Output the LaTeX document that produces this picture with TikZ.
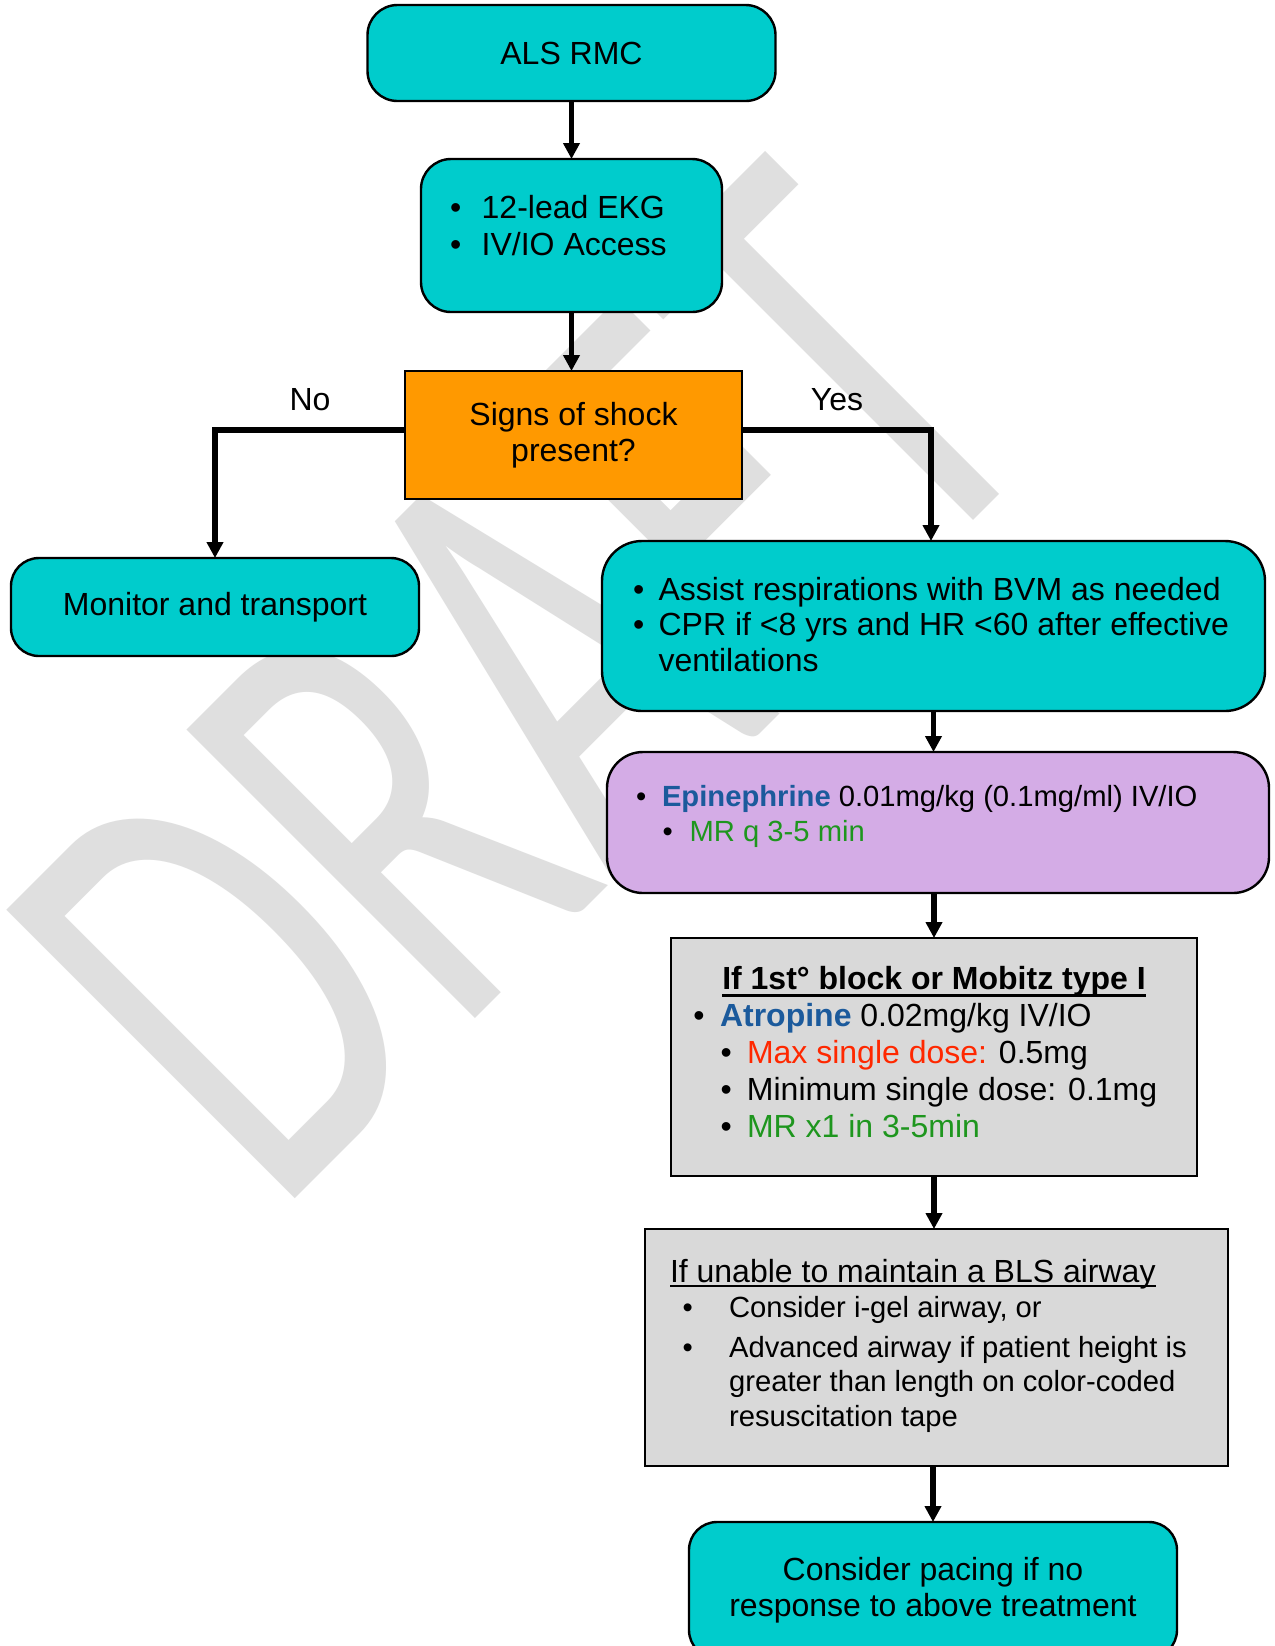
\documentclass[tikz,border=0pt]{standalone}
\usepackage{fontspec}
\usepackage{graphicx}
\setmainfont{Liberation Sans}
\newfontfamily\wmfont{Carlito}
\usetikzlibrary{arrows.meta}

\definecolor{boxcyan}{HTML}{00CCCC}
\definecolor{boxorange}{HTML}{FF9900}
\definecolor{boxlilac}{HTML}{D4ACE6}
\definecolor{boxgray}{HTML}{D9D9D9}
\definecolor{drugblue}{HTML}{1B5A9C}
\definecolor{dosegreen}{HTML}{1E961E}
\definecolor{dosered}{HTML}{FF2800}
\definecolor{wmgray}{HTML}{DFDFDF}

% bullet set in a slot of fixed width, followed by the item text
\newcommand{\bt}[2]{\makebox[#1][l]{•}#2}

\tikzset{
  flow/.style={draw=black, line width=1.2pt, inner sep=0pt, outer sep=0pt},
  cyanbox/.style={flow, fill=boxcyan, rounded corners=#1, align=center,
                  font=\fontsize{16}{18}\selectfont},
  cyanbox/.default=14pt,
  txt/.style={inner sep=0pt, outer sep=0pt, font=\fontsize{16}{18}\selectfont},
  smalltxt/.style={inner sep=0pt, outer sep=0pt, font=\fontsize{14.6}{17.2}\selectfont},
  link/.style={line width=2.6pt, line join=miter,
               -{Triangle[width=8pt,length=8pt]}},
}

\begin{document}
\begin{tikzpicture}[x=0.5pt, y=-0.5pt]
\useasboundingbox (0,0) rectangle (1275,1646);
\clip (0,0) rectangle (1275,1646);
\fill[white] (0,0) rectangle (1275,1646);

% watermark
\node[rotate=45, anchor=base west, inner sep=0pt, text=wmgray,
      font=\wmfont\fontsize{318}{318}\selectfont] (wm) at (275,1219)
      {\scalebox{0.648}[1]{DRAFT}};

% boxes
\node[cyanbox=15pt, minimum width=204pt, minimum height=48pt] (als) at (571.5,53) {ALS RMC};
\node[cyanbox=15pt, minimum width=150.5pt, minimum height=76.5pt] (ekg) at (571.5,235.5) {};
\node[flow, fill=boxorange, minimum width=168.5pt, minimum height=64pt, align=center,
      font=\fontsize{16}{18}\selectfont] (dec) at (573.5,435) {Signs of shock\\present?};
\node[cyanbox=14pt, minimum width=204pt, minimum height=49pt] (mon) at (215,607) {Monitor and transport};
\node[cyanbox=20pt, minimum width=331.5pt, minimum height=85pt] (assist) at (933.5,626) {};
\node[flow, fill=boxlilac, rounded corners=18pt, minimum width=331pt, minimum height=70.5pt] (epi) at (938,822.5) {};
\node[flow, fill=boxgray, minimum width=263pt, minimum height=119pt] (atro) at (934,1057) {};
\node[flow, fill=boxgray, minimum width=291.5pt, minimum height=118.5pt] (air) at (936.5,1347.5) {};
\node[cyanbox=14pt, minimum width=244pt, minimum height=68pt] (fin) at (933,1590)
      {Consider pacing if no\\response to above treatment};

% box texts
\node[txt, anchor=base west, font=\fontsize{16}{18.5}\selectfont] (ekgtxt) at (450,218)
  {\vtop{\hbox{\bt{15.85pt}{12-lead EKG}}\hbox{\bt{15.85pt}{IV/IO Access}}}};

\node[txt, anchor=base west, font=\fontsize{16}{17.9}\selectfont] (assisttxt) at (633,600)
  {\vtop{\hbox{\bt{12.8pt}{Assist respirations with BVM as needed}}%
         \hbox{\bt{12.8pt}{CPR if <8 yrs and HR <60 after effective}}%
         \hbox{\hspace*{12.8pt}ventilations}}};

\node[smalltxt, anchor=base west, font=\fontsize{14.6}{17.15}\selectfont] (epitxt) at (636,806.7)
  {\vtop{\hbox{\bt{13pt}{\textcolor{drugblue}{\textbf{Epinephrine}} 0.01mg/kg (0.1mg/ml) IV/IO}}%
         \hbox{\hspace*{13.35pt}\bt{13.45pt}{\textcolor{dosegreen}{MR q 3-5 min}}}}};

\node[txt, anchor=base, font=\fontsize{16}{18}\bfseries] (atrotitle) at (934,989.6)
  {If 1st° block or Mobitz type I};
\draw[line width=1.3pt] ([yshift=-3pt]atrotitle.base west) -- ([yshift=-3pt]atrotitle.base east);

\node[txt, anchor=base west, font=\fontsize{16}{18.6}\selectfont] (atrotxt) at (693.4,1026)
  {\vtop{\hbox{\bt{13.3pt}{\textcolor{drugblue}{\textbf{Atropine}} 0.02mg/kg IV/IO}}%
         \hbox{\hspace*{13.6pt}\bt{13.2pt}{\textcolor{dosered}{Max single dose:} 0.5mg}}%
         \hbox{\hspace*{13.6pt}\bt{13.2pt}{Minimum single dose: 0.1mg}}%
         \hbox{\hspace*{13.6pt}\bt{13.2pt}{\textcolor{dosegreen}{MR x1 in 3-5min}}}}};

\node[txt, anchor=base west] (airtitle) at (670,1282.5) {If unable to maintain a BLS airway};
\draw[line width=1pt] ([yshift=-1.5pt]airtitle.base west) -- ([yshift=-1.5pt]airtitle.base east);

\node[smalltxt, anchor=base west, font=\fontsize{14.6}{17.25}\selectfont] (airtxt) at (682.7,1317.5)
  {\vtop{\hbox{\bt{23.2pt}{Consider i-gel airway, or}}\kern2.5pt
         \hbox{\bt{23.2pt}{Advanced airway if patient height is}}%
         \hbox{\hspace*{23.2pt}greater than length on color-coded}%
         \hbox{\hspace*{23.2pt}resuscitation tape}}};

% branch labels
\node[txt, anchor=base] (lblno) at (310,410) {No};
\node[txt, anchor=base] (lblyes) at (837,410) {Yes};

% connectors
\draw[link] (als.south) -- (als.south |- ekg.north);
\draw[link] (ekg.south) -- (ekg.south |- dec.north);
\draw[link] ([yshift=2.5pt]dec.west) -| (mon.north);
\draw[link] ([yshift=2.5pt]dec.east) -| ([xshift=-1.25pt]assist.north);
\draw[link] (assist.south) -- (assist.south |- epi.north);
\draw[link] (atro.north |- epi.south) -- (atro.north);
\draw[link] (atro.south) -- (atro.south |- air.north);
\draw[link] (fin.north |- air.south) -- (fin.north);
\end{tikzpicture}
\end{document}
